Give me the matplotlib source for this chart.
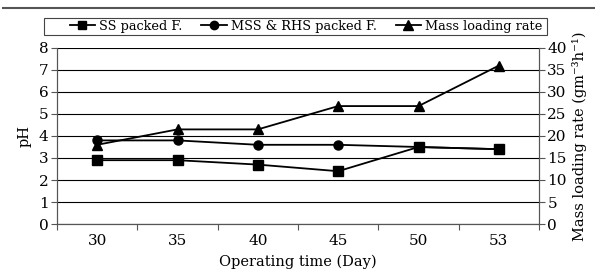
import matplotlib
matplotlib.use("Agg")
import matplotlib.pyplot as plt
from matplotlib.lines import Line2D
from matplotlib.patches import Rectangle

plt.rcParams['font.family'] = ['DejaVu Serif']

days = ["30", "35", "40", "45", "50", "53"]
ss_ph = [2.9, 2.9, 2.7, 2.4, 3.5, 3.4]
mss_ph = [3.8, 3.8, 3.6, 3.6, 3.5, 3.4]
mass_rate = [18, 21.5, 21.5, 26.8, 26.8, 36]

fig = plt.figure(figsize=(5.95, 2.73), dpi=100)
ax = fig.add_axes([57/595, 1-224/273, 482/595, 176/273])
x = [i + 0.5 for i in range(len(days))]

ax.plot(x, ss_ph, color='black', marker='s', markersize=6.5, lw=1.3, label='SS packed F.')
ax.plot(x, mss_ph, color='black', marker='o', markersize=6.5, lw=1.3, label='MSS & RHS packed F.')
ax.set_xlim(0, 6)
ax.set_ylim(0, 8)
ax.set_yticks(range(0, 9))
ax.set_xticks(range(0, 7), minor=False)
ax.set_xticklabels([])
ax.set_xticks(x, minor=True)
ax.set_xticklabels(days, minor=True)
ax.tick_params(axis='x', which='minor', length=0, pad=7, labelsize=11)
ax.tick_params(axis='x', which='major', length=4, direction='out', color='#555555')
ax.tick_params(axis='y', length=4, labelsize=11, color='#555555', pad=2)
ax.grid(axis='y', color='black', lw=0.8)
ax.set_axisbelow(True)
ax.spines['top'].set_visible(False)
for s in ['left', 'bottom', 'right']:
    ax.spines[s].set_color('#555555')
ax.set_ylabel('pH', fontsize=10.5, labelpad=5)
ax.set_xlabel('Operating time (Day)', fontsize=10.5, labelpad=5)

ax2 = ax.twinx()
ax2.plot(x, mass_rate, color='black', marker='^', markersize=7, lw=1.3, label='Mass loading rate')
ax2.set_ylim(0, 40)
ax2.set_yticks(range(0, 41, 5))
ax2.tick_params(axis='y', length=4, labelsize=11, color='#555555', pad=2)
ax2.spines['top'].set_visible(False)
for s in ['left', 'bottom', 'right']:
    ax2.spines[s].set_color('#555555')
ax2.set_ylabel('Mass loading rate (gm⁻³h⁻¹)', fontsize=10.5, labelpad=4)

handles = [Line2D([], [], color='black', marker='s', markersize=6, lw=1.3),
           Line2D([], [], color='black', marker='o', markersize=6, lw=1.3),
           Line2D([], [], color='black', marker='^', markersize=6.5, lw=1.3)]
labels = ['SS packed F.', 'MSS & RHS packed F.', 'Mass loading rate']
leg = fig.legend(handles, labels, ncol=3, loc='center',
                 bbox_to_anchor=(306/595, 1-26.5/273), frameon=False,
                 fontsize=9.3, handlelength=1.95, handletextpad=0.3,
                 columnspacing=1.5, borderpad=0.0, borderaxespad=0)

fig.add_artist(Rectangle((44/595, 1-35/273), 503/595, 17/273, transform=fig.transFigure,
                         fill=False, edgecolor='#444444', lw=0.8))
fig.add_artist(Line2D([3/595, 1], [1-8/273, 1-8/273], color='#555555', lw=1.5,
                      transform=fig.transFigure))

fig.savefig('out.png', dpi=100)
